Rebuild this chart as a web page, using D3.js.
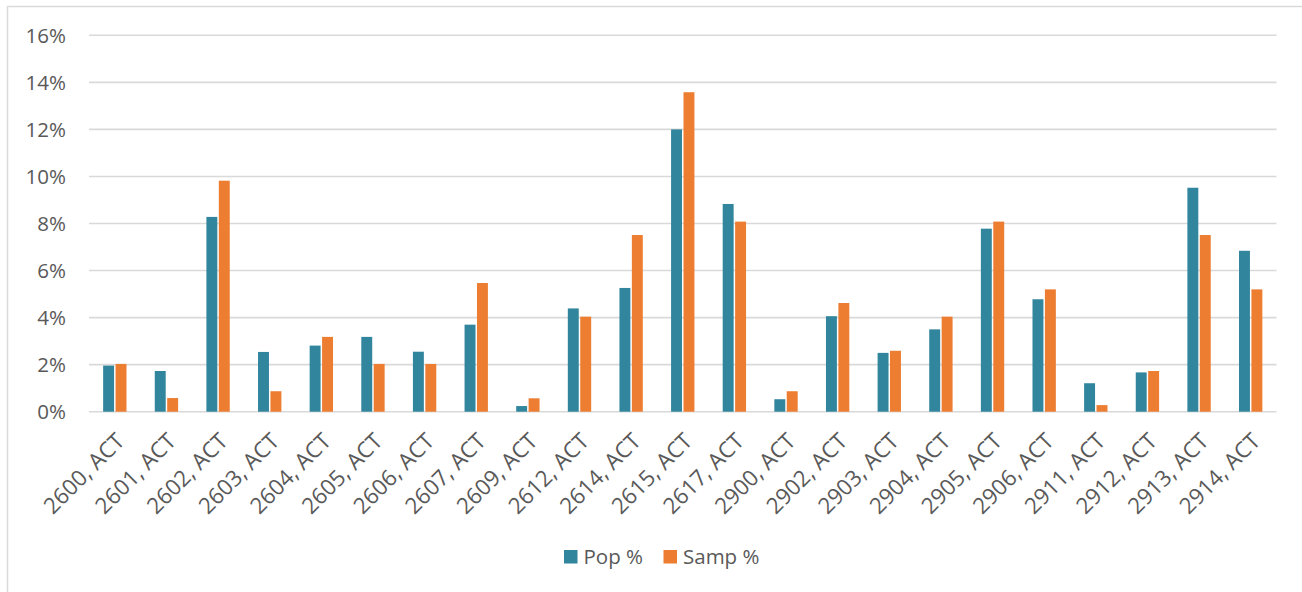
<!DOCTYPE html>
<html>
<head>
<meta charset="utf-8">
<script src="https://cdn.jsdelivr.net/npm/d3@7"></script>
<style>
  body { margin: 0; background: #fff; }
  text { font-family: "Open Sans", sans-serif; fill: #595959; }
</style>
</head>
<body>
<script>
const width = 1302;
const height = 592;

const categories = ['2600, ACT', '2601, ACT', '2602, ACT', '2603, ACT', '2604, ACT', '2605, ACT',
  '2606, ACT', '2607, ACT', '2609, ACT', '2612, ACT', '2614, ACT', '2615, ACT', '2617, ACT',
  '2900, ACT', '2902, ACT', '2903, ACT', '2904, ACT', '2905, ACT', '2906, ACT', '2911, ACT',
  '2912, ACT', '2913, ACT', '2914, ACT'];

const popPct = [1.96, 1.73, 8.28, 2.54, 2.81, 3.18, 2.55, 3.70, 0.24, 4.39, 5.26, 12.0,
  8.83, 0.53, 4.06, 2.50, 3.50, 7.78, 4.78, 1.21, 1.67, 9.52, 6.84];

const sampPct = [2.03, 0.58, 9.82, 0.87, 3.18, 2.03, 2.03, 5.47, 0.57, 4.04, 7.51, 13.58,
  8.08, 0.87, 4.62, 2.59, 4.04, 8.08, 5.20, 0.28, 1.73, 7.51, 5.20];

const seriesNames = ['Pop %', 'Samp %'];
const colors = ['#31859C', '#ED7D31'];
const yTicks = [0, 2, 4, 6, 8, 10, 12, 14, 16];

const rows = categories.map((c, i) => ({ cat: c, values: [popPct[i], sampPct[i]] }));

const svg = d3.select('body').append('svg')
  .attr('width', width)
  .attr('height', height);

// chart area border
svg.append('rect')
  .attr('x', 7.5)
  .attr('y', 6.5)
  .attr('width', width + 20)
  .attr('height', height + 20)
  .attr('fill', 'none')
  .attr('stroke', '#D9D9D9')
  .attr('stroke-width', 1.5);

const x0 = d3.scaleBand()
  .domain(categories)
  .range([89, 1276.5])
  .paddingInner(0.49)
  .paddingOuter(0.245);

const x1 = d3.scaleBand()
  .domain([0, 1])
  .range([0, x0.bandwidth()])
  .padding(0.12);

const y = d3.scaleLinear()
  .domain([0, 16])
  .range([411.7, 35.3]);

// gridlines
svg.append('g')
  .selectAll('line')
  .data(yTicks)
  .join('line')
  .attr('x1', 89)
  .attr('x2', 1276.5)
  .attr('y1', d => y(d))
  .attr('y2', d => y(d))
  .attr('stroke', '#D9D9D9')
  .attr('stroke-width', 1.6);

// y labels
svg.append('g')
  .selectAll('text')
  .data(yTicks)
  .join('text')
  .attr('x', 66)
  .attr('y', d => y(d))
  .attr('dy', '0.36em')
  .attr('text-anchor', 'end')
  .style('font-size', '20.5px')
  .text(d => d + '%');

// bars
const groups = svg.append('g')
  .selectAll('g')
  .data(rows)
  .join('g')
  .attr('transform', d => `translate(${x0(d.cat)},0)`);

groups.selectAll('rect')
  .data(d => d.values)
  .join('rect')
  .attr('x', (d, i) => x1(i))
  .attr('width', x1.bandwidth())
  .attr('y', d => y(d))
  .attr('height', d => y(0) - y(d))
  .attr('fill', (d, i) => colors[i]);

// x labels, rotated
svg.append('g')
  .selectAll('text')
  .data(categories)
  .join('text')
  .attr('transform', d => `translate(${x0(d) + x0.bandwidth() / 2 + 11},${442.5}) rotate(-45)`)
  .attr('text-anchor', 'end')
  .style('font-size', '22.3px')
  .text(d => d);

// legend
const legend = svg.append('g')
  .selectAll('g')
  .data(seriesNames)
  .join('g')
  .attr('transform', (d, i) => `translate(${[564, 663.5][i]},550)`);

legend.append('rect')
  .attr('width', 13.5)
  .attr('height', 13.5)
  .attr('fill', (d, i) => colors[i]);

legend.append('text')
  .attr('x', 19.5)
  .attr('y', 13.5)
  .style('font-size', '20.5px')
  .text(d => d);
</script>
</body>
</html>
